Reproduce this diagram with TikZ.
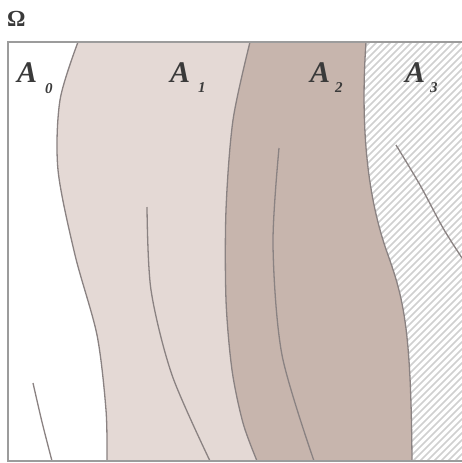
\documentclass[tikz,border=0pt]{standalone}
\usepackage{fontspec}
\setmainfont{Liberation Serif}
\definecolor{aone}{HTML}{E4D9D5}
\definecolor{atwo}{HTML}{C7B5AD}
\definecolor{linegray}{HTML}{8A8282}
\definecolor{framegray}{HTML}{9C9C9C}
\definecolor{hatchgray}{HTML}{D0D0D0}
\definecolor{txt}{HTML}{3A3A3A}
\begin{document}
\begin{tikzpicture}[x=1pt,y=-1pt,
  bline/.style={draw=linegray, line width=1.3pt},
  hatchline/.style={draw=hatchgray, line width=1.5pt},
  frameline/.style={draw=framegray, line width=2pt},
  biglabel/.style={inner sep=0pt, anchor=base west, text=txt, font=\fontsize{30}{32}\selectfont\bfseries\itshape},
  sublabel/.style={inner sep=0pt, anchor=base west, text=txt, font=\fontsize{15}{17}\selectfont\bfseries\itshape}]
\useasboundingbox (0,0) rectangle (461,463);
\fill[white] (0,0) rectangle (461,463);
% A1 region
\fill[aone] plot[smooth] coordinates {(78,42) (60,100) (58,170) (75,255) (97,335) (106,410) (107,461)}
  -- plot[smooth] coordinates {(257,461) (243,423) (232,370) (226,300) (226,210) (233,120) (250,42)} -- cycle;
% A2 region
\fill[atwo] plot[smooth] coordinates {(250,42) (233,120) (226,210) (226,300) (232,370) (243,423) (257,461)}
  -- (412,461) .. controls (411,330) and (404,300) .. (388,255) .. controls (368,200) and (360,130) .. (366,42) -- cycle;
% A3 hatch
\begin{scope}
  \clip (366,42) .. controls (360,130) and (368,200) .. (388,255) .. controls (404,300) and (411,330) .. (412,461)
    -- (462,461) -- (462,42) -- cycle;
  \foreach \c in {-72,-65,...,462} {\draw[hatchline] (\c,470) -- ++(480,-480);}
\end{scope}
% boundaries
\draw[bline] plot[smooth] coordinates {(78,42) (60,100) (58,170) (75,255) (97,335) (106,410) (107,461)};
\draw[bline] plot[smooth] coordinates {(250,42) (233,120) (226,210) (226,300) (232,370) (243,423) (257,461)};
\draw[bline] (366,42) .. controls (360,130) and (368,200) .. (388,255) .. controls (404,300) and (411,330) .. (412,461);
% interior curves
\draw[bline] plot[smooth] coordinates {(33,383) (42,422) (52,461)};
\draw[bline] plot[smooth] coordinates {(147,207) (151,290) (172,375) (210,461)};
\draw[bline] plot[smooth] coordinates {(279,148) (273,245) (282,355) (314,461)};
\draw[bline] plot[smooth] coordinates {(396,145) (420,185) (443,228) (462,258)};
% frame
\draw[frameline] (462,42) -- (8,42) -- (8,461) -- (462,461);
% labels
\node[inner sep=0pt, anchor=base west, text=txt, font=\fontsize{23}{26}\selectfont\bfseries] (omega) at (7,27) {Ω};
\node[biglabel] (a0) at (17,82) {A};
\node[sublabel] (s0) at (45,93) {0};
\node[biglabel] (a1) at (170,82) {A};
\node[sublabel] (s1) at (198,92) {1};
\node[biglabel] (a2) at (310,82) {A};
\node[sublabel] (s2) at (335,92) {2};
\node[biglabel] (a3) at (405,82) {A};
\node[sublabel] (s3) at (430,92) {3};
\end{tikzpicture}
\end{document}
